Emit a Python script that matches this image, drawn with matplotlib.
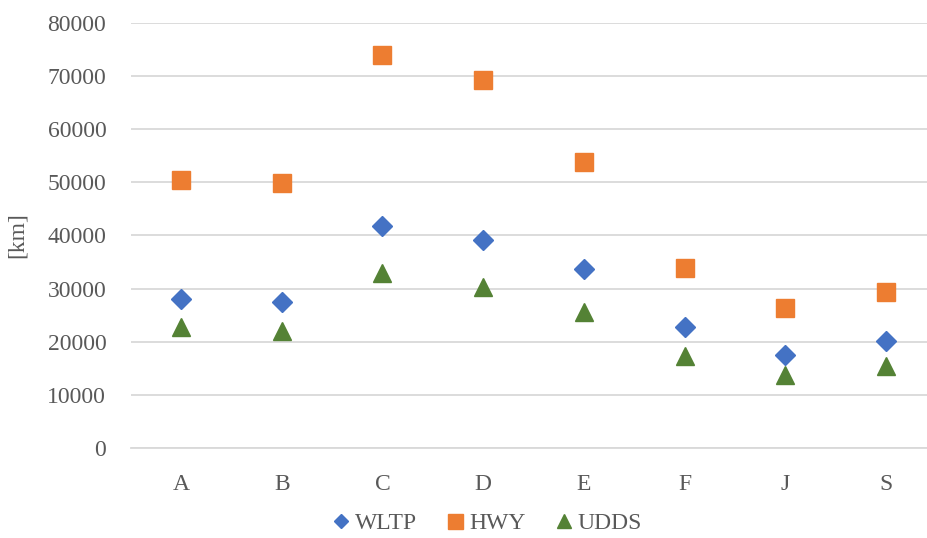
import matplotlib
matplotlib.use("Agg")
import matplotlib.pyplot as plt
from matplotlib.lines import Line2D
import numpy as np

categories = ["A", "B", "C", "D", "E", "F", "J", "S"]
wltp = [28000, 27400, 41800, 39200, 33700, 22800, 17500, 20200]
hwy = [50400, 49800, 74000, 69200, 53800, 33900, 26300, 29400]
udds = [22700, 22000, 32900, 30300, 25600, 17300, 13700, 15500]

c_wltp = "#4472C4"
c_hwy = "#ED7D31"
c_udds = "#548235"
c_text = "#595959"

plt.rcParams['font.family'] = ['Liberation Serif', 'DejaVu Serif']
fig = plt.figure(figsize=(9.28, 5.38), dpi=100)
W, H = 928, 538
left, right = 130.6, 936.5
top, bottom = 22.7, 448
ax = fig.add_axes([left / W, (H - bottom) / H, (right - left) / W, (bottom - top) / H])

x = np.arange(len(categories))
ax.plot(x, wltp, linestyle="none", marker="D", ms=10, color=c_wltp, zorder=3)
ax.plot(x, hwy, linestyle="none", marker="s", ms=13, color=c_hwy, zorder=3)
ax.plot(x, udds, linestyle="none", marker="^", ms=13, color=c_udds, zorder=3)

ax.set_xlim(-0.5, len(categories) - 0.5)
ax.set_ylim(0, 80000)
ax.set_yticks(np.arange(0, 80001, 10000))
ax.set_xticks(x)
ax.set_xticklabels(categories)
ax.grid(axis="y", color="#D9D9D9", linewidth=1.3)
ax.set_axisbelow(True)
for s in ["top", "right", "left"]:
    ax.spines[s].set_visible(False)
ax.spines["bottom"].set_color("#D9D9D9")
ax.spines["bottom"].set_linewidth(1.3)
ax.tick_params(axis="both", length=0, labelsize=17, colors=c_text)
ax.tick_params(axis="y", pad=17.5)
ax.tick_params(axis="x", pad=18.5)
ax.set_ylabel("[km]", fontsize=17, color=c_text, labelpad=14)

handles = [
    Line2D([], [], linestyle="none", marker="D", ms=7.6, color=c_wltp, label="WLTP"),
    Line2D([], [], linestyle="none", marker="s", ms=10.8, color=c_hwy, label="HWY"),
    Line2D([], [], linestyle="none", marker="^", ms=9.4, color=c_udds, label="UDDS"),
]
leg = fig.legend(handles=handles, loc="center", bbox_to_anchor=(487 / W, 1 - 523 / H),
                 ncol=3, frameon=False, fontsize=17, handlelength=0.8,
                 handletextpad=0.2, columnspacing=1.2)
for t in leg.get_texts():
    t.set_color(c_text)

fig.savefig("out.png", dpi=100)
